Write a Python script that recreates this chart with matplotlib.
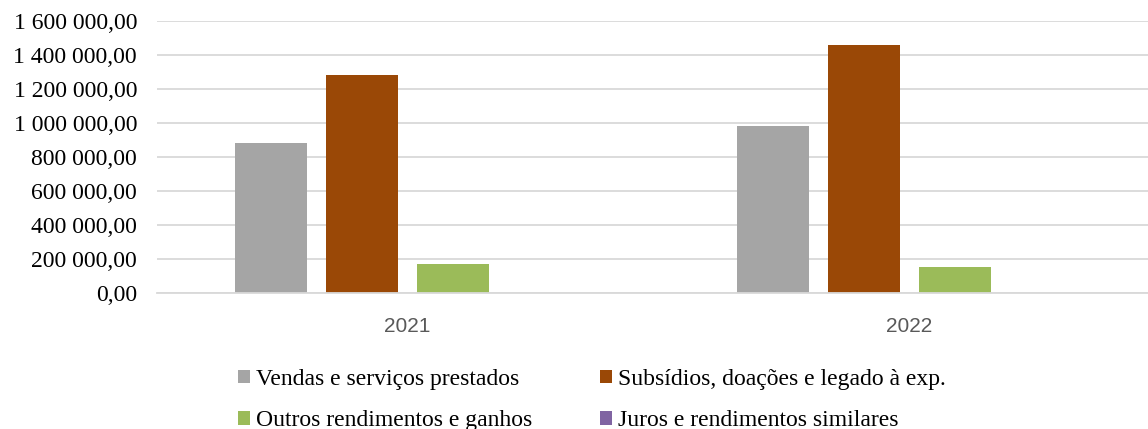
import matplotlib
matplotlib.use("Agg")
import matplotlib.pyplot as plt
from matplotlib.ticker import FuncFormatter, MultipleLocator
import numpy as np

years = ["2021", "2022"]
series_names = ["Vendas e serviços prestados",
                "Subsídios, doações e legado à exp.",
                "Outros rendimentos e ganhos",
                "Juros e rendimentos similares"]
vendas = [883000, 981000]
subsidios = [1282000, 1458000]
outros = [174000, 156000]
juros = [0, 0]
colors = ["#A5A5A5", "#9A4806", "#9BBB59", "#8064A2"]

values = [vendas, subsidios, outros, juros]

fig = plt.figure(figsize=(11.48, 4.29), dpi=100)
ax = fig.add_axes([156.5/1148, (429-293.3)/429, (1160.5-156.5)/1148, (293.3-20.7)/429])

x = np.arange(len(years))
width = 0.1434
step = 0.1813
offsets = [-1.5*step, -0.5*step, 0.5*step, 1.5*step]
handles = []
for vals, name, col, off in zip(values, series_names, colors, offsets):
    h = ax.bar(x + off, vals, width=width, color=col, label=name, zorder=3)
    handles.append(h)

ax.set_xlim(-0.5, 1.5)
ax.set_ylim(0, 1600000)
ax.yaxis.set_major_locator(MultipleLocator(200000))
ax.yaxis.set_major_formatter(FuncFormatter(
    lambda v, p: f"{v:,.2f}".replace(",", " ").replace(".", ",")))
ax.grid(axis="y", color="#D9D9D9", linewidth=1.3, zorder=0)
ax.set_axisbelow(True)
for s in ["top", "right", "left"]:
    ax.spines[s].set_visible(False)
ax.spines["bottom"].set_color("#D9D9D9")
ax.spines["bottom"].set_linewidth(1.3)
ax.spines["bottom"].set_zorder(4)

ax.set_xticks(x)
ax.set_xticklabels(years, fontfamily="Liberation Sans", fontsize=15, color="#595959")
ax.tick_params(axis="x", length=0, pad=17)
ax.tick_params(axis="y", length=0, pad=14)
for lab in ax.get_yticklabels():
    lab.set_fontfamily("Liberation Serif")
    lab.set_fontsize(17)
    lab.set_color("black")

order = [0, 2, 1, 3]
leg = fig.legend([handles[i] for i in order], [series_names[i] for i in order],
                 ncol=2, loc="center", bbox_to_anchor=(592/1148, (429-400)/429),
                 frameon=False, borderpad=0, handlelength=0.52, handleheight=0.52,
                 handletextpad=0.26, columnspacing=2.84, labelspacing=0.85,
                 prop={"family": "Liberation Serif", "size": 17})

fig.savefig("out.png", dpi=100)
